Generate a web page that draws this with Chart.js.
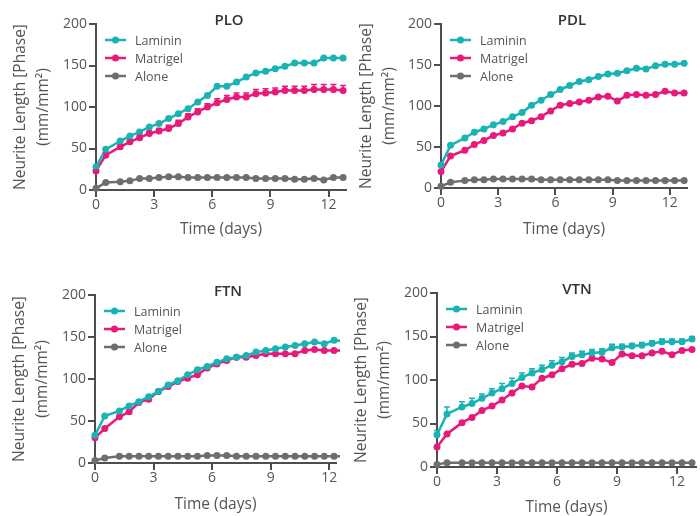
<!DOCTYPE html>
<html>
<head>
<meta charset="utf-8">
<script src="https://cdn.jsdelivr.net/npm/chart.js@4.4.1/dist/chart.umd.min.js"></script>
<style>
  html, body { margin: 0; padding: 0; background: #fff; }
  #wrap { position: relative; width: 700px; height: 516px; overflow: hidden; }
  #wrap canvas { position: absolute; }
</style>
</head>
<body>
<div id="wrap">
  <canvas id="plo" width="350" height="250" style="left:0;top:0"></canvas>
  <canvas id="pdl" width="350" height="250" style="left:350px;top:0"></canvas>
  <canvas id="ftn" width="340" height="256" style="left:0;top:260px"></canvas>
  <canvas id="vtn" width="350" height="256" style="left:350px;top:260px"></canvas>
</div>
<script>
// time points (days)
var days = [0, 0.5, 1.25, 1.75, 2.25, 2.75, 3.25, 3.75, 4.25, 4.75, 5.25, 5.75, 6.25,
            6.75, 7.25, 7.75, 8.25, 8.75, 9.25, 9.75, 10.25, 10.75, 11.25, 11.75, 12.25, 12.75];
var seriesNames = ['Laminin', 'Matrigel', 'Alone'];
var xTicks = [0, 3, 6, 9, 12];
var yTicks = [0, 50, 100, 150, 200];

// neurite length, mm/mm2
var ploLaminin = [28, 49, 59, 65, 70, 76, 80, 86, 92, 98, 106, 114, 125, 125, 130, 136, 141, 143, 146, 149, 153, 153, 153, 159, 159, 159];
var ploMatrigel = [23, 42, 52, 58, 63, 68, 71, 74, 80, 88, 94, 100, 105, 109, 112, 112, 116, 117, 118, 120, 120, 120, 121, 121, 121, 120];
var ploMatrigelErr = [1, 2, 2, 2, 3, 3, 3, 4, 4, 4, 4, 4, 5, 5, 5, 5, 5, 5, 5, 5, 5, 5, 6, 6, 6, 6];
var ploAlone = [2, 9, 10, 11, 14, 14, 15, 16, 16, 15, 15, 15, 15, 15, 15, 15, 14, 14, 14, 14, 13, 13, 14, 12, 15, 15];

var pdlLaminin = [28, 52, 61, 68, 72, 77, 81, 87, 92, 101, 107, 114, 120, 125, 130, 132, 136, 139, 140, 143, 146, 145, 149, 151, 151, 152];
var pdlMatrigel = [20, 39, 46, 53, 58, 64, 67, 72, 79, 82, 87, 94, 101, 103, 105, 107, 111, 112, 106, 113, 114, 113, 114, 118, 116, 116];
var pdlAlone = [2, 7, 9, 10, 10, 11, 11, 11, 11, 11, 10, 10, 10, 10, 10, 10, 10, 10, 9, 9, 9, 9, 9, 9, 9, 9];

var ftnLaminin = [33, 56, 62, 68, 73, 79, 85, 93, 98, 105, 111, 115, 120, 124, 126, 128, 132, 134, 136, 138, 140, 142, 144, 142, 146, 145];
var ftnMatrigel = [30, 41, 55, 61, 72, 76, 85, 91, 97, 101, 105, 113, 118, 122, 126, 126, 128, 130, 130, 130, 130, 134, 135, 134, 134, 134];
var ftnAlone = [3, 6, 8, 8, 8, 8, 8, 8, 8, 8, 8, 9, 9, 9, 8, 8, 8, 8, 8, 8, 8, 8, 8, 8, 8, 8];

var vtnLaminin = [37, 61, 69, 73, 79, 85, 90, 96, 103, 108, 112, 117, 121, 127, 129, 131, 132, 137, 138, 139, 140, 142, 144, 144, 144, 147];
var vtnLamininErr = [5, 8, 6, 6, 5, 5, 6, 6, 5, 5, 5, 5, 5, 4, 4, 4, 4, 4, 3, 3, 3, 3, 3, 3, 3, 3];
var vtnMatrigel = [23, 38, 51, 57, 65, 70, 77, 85, 93, 92, 102, 106, 113, 118, 119, 125, 124, 120, 130, 128, 128, 131, 133, 129, 134, 135];
var vtnAlone = [3, 5, 5, 5, 5, 5, 5, 5, 5, 5, 5, 5, 5, 5, 5, 5, 5, 5, 5, 5, 5, 5, 5, 5, 5, 5];

var colors = ['#1ab3b3', '#e8197a', '#6e6e6e'];
var axisColor = '#4d4d4d';
var textColor = '#555';
var fontFamily = '"Open Sans", sans-serif';

function pts(vals) {
  return vals.map(function (v, i) { return { x: days[i], y: v }; });
}

// error caps (upper only, as in the source figure)
var errorBars = {
  id: 'errorBars',
  afterDatasetsDraw: function (chart) {
    var ctx = chart.ctx;
    var yScale = chart.scales.y;
    chart.data.datasets.forEach(function (ds, i) {
      if (!ds.errors) return;
      var meta = chart.getDatasetMeta(i);
      ctx.save();
      ctx.strokeStyle = ds.borderColor;
      ctx.lineWidth = 1.5;
      meta.data.forEach(function (pt, j) {
        var top = yScale.getPixelForValue(ds.data[j].y + ds.errors[j]);
        ctx.beginPath();
        ctx.moveTo(pt.x, pt.y);
        ctx.lineTo(pt.x, top);
        ctx.moveTo(pt.x - 3, top);
        ctx.lineTo(pt.x + 3, top);
        ctx.stroke();
      });
      ctx.restore();
    });
  }
};

// panel title + in-plot legend
var panelDecor = {
  id: 'panelDecor',
  afterDraw: function (chart, args, opts) {
    var ctx = chart.ctx;
    var area = chart.chartArea;
    ctx.save();
    ctx.font = '600 15px ' + fontFamily;
    ctx.fillStyle = '#333';
    ctx.textAlign = 'center';
    ctx.textBaseline = 'middle';
    ctx.fillText(opts.title, area.left + opts.titleDx, area.top - 3);

    ctx.font = '12.5px ' + fontFamily;
    ctx.textAlign = 'left';
    chart.data.datasets.forEach(function (ds, i) {
      var y = area.top + 16 + i * 18;
      var x0 = area.left + 9;
      ctx.strokeStyle = ds.borderColor;
      ctx.lineWidth = 2.5;
      ctx.beginPath();
      ctx.moveTo(x0, y);
      ctx.lineTo(x0 + 21, y);
      ctx.stroke();
      ctx.fillStyle = ds.borderColor;
      ctx.beginPath();
      ctx.arc(x0 + 10.5, y, 3.5, 0, Math.PI * 2);
      ctx.fill();
      ctx.fillStyle = textColor;
      ctx.fillText(ds.label, x0 + 30, y + 1);
    });
    ctx.restore();
  }
};

function makePanel(p) {
  var series = [p.laminin, p.matrigel, p.alone];
  var datasets = series.map(function (vals, i) {
    return {
      label: seriesNames[i],
      data: pts(vals),
      borderColor: colors[i],
      backgroundColor: colors[i],
      pointBackgroundColor: colors[i],
      borderWidth: 2.5,
      pointRadius: 3.5,
      pointBorderWidth: 0,
      tension: 0,
      clip: false,
      errors: p.errors[i] || null
    };
  });
  // draw Alone underneath, Laminin on top
  datasets[0].order = 0;
  datasets[1].order = 1;
  datasets[2].order = 2;

  new Chart(document.getElementById(p.id), {
    type: 'line',
    data: { datasets: datasets },
    plugins: [errorBars, panelDecor],
    options: {
      responsive: false,
      animation: false,
      layout: { padding: { top: p.padTop, right: p.padRight, bottom: 0, left: 0 } },
      plugins: {
        legend: { display: false },
        tooltip: { enabled: false },
        panelDecor: { title: p.title, titleDx: p.titleDx }
      },
      scales: {
        x: {
          type: 'linear',
          min: 0,
          max: p.xMax,
          afterFit: function (s) { s.height = p.xHeight; },
          afterBuildTicks: function (s) { s.ticks = xTicks.map(function (v) { return { value: v }; }); },
          border: { color: axisColor, width: 2 },
          grid: { drawOnChartArea: false, drawTicks: true, tickLength: 7, color: axisColor, lineWidth: 2 },
          ticks: { color: textColor, font: { family: fontFamily, size: 14 }, padding: 0, maxRotation: 0 },
          title: {
            display: true,
            text: 'Time (days)',
            color: textColor,
            font: { family: fontFamily, size: 15.5 },
            padding: { top: 0, bottom: p.xTitlePad }
          }
        },
        y: {
          min: 0,
          max: 200,
          afterFit: function (s) { s.width = p.yWidth; },
          afterBuildTicks: function (s) { s.ticks = yTicks.map(function (v) { return { value: v }; }); },
          border: { color: axisColor, width: 2 },
          grid: { drawOnChartArea: false, drawTicks: true, tickLength: 7, color: axisColor, lineWidth: 2 },
          ticks: { color: textColor, font: { family: fontFamily, size: 14 }, padding: 2 },
          title: {
            display: true,
            text: ['Neurite Length [Phase]', '(mm/mm\u00B2)'],
            color: textColor,
            font: { family: fontFamily, size: 15.5, lineHeight: 1.5 },
            padding: { top: p.yTitlePad, bottom: 0 }
          }
        }
      }
    }
  });
}

makePanel({ id: 'plo', title: 'PLO', laminin: ploLaminin, matrigel: ploMatrigel, alone: ploAlone,
  errors: [null, ploMatrigelErr, null],
  yWidth: 96, padTop: 24, xHeight: 60, padRight: 4, xMax: 12.9, titleDx: 133, xTitlePad: 11, yTitlePad: 9 });
makePanel({ id: 'pdl', title: 'PDL', laminin: pdlLaminin, matrigel: pdlMatrigel, alone: pdlAlone,
  errors: [null, null, null],
  yWidth: 91, padTop: 24, xHeight: 62, padRight: 13, xMax: 12.9, titleDx: 131, xTitlePad: 11, yTitlePad: 5 });
makePanel({ id: 'ftn', title: 'FTN', laminin: ftnLaminin, matrigel: ftnMatrigel, alone: ftnAlone,
  errors: [null, null, null],
  yWidth: 95, padTop: 35, xHeight: 53, padRight: 0, xMax: 12.35, titleDx: 133, xTitlePad: 2, yTitlePad: 8 });
makePanel({ id: 'vtn', title: 'VTN', laminin: vtnLaminin, matrigel: vtnMatrigel, alone: vtnAlone,
  errors: [vtnLamininErr, null, null],
  yWidth: 87, padTop: 33, xHeight: 49, padRight: 0, xMax: 12.95, titleDx: 140, xTitlePad: -1, yTitlePad: 0 });
</script>
</body>
</html>
